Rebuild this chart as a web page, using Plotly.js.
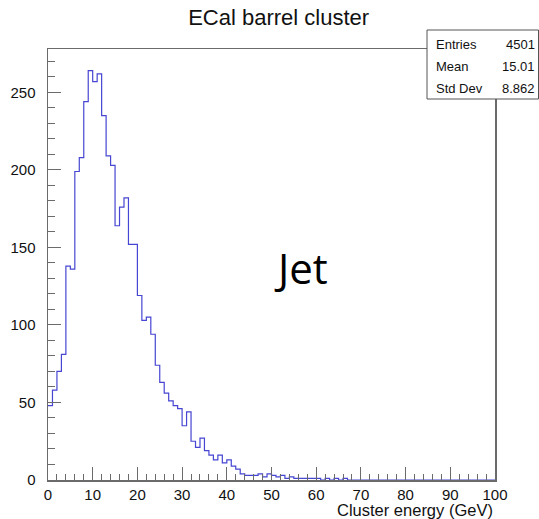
<!DOCTYPE html>
<html>
<head>
<meta charset="utf-8">
<script src="https://cdn.plot.ly/plotly-3.0.1.min.js"></script>
<style>
  html, body { margin: 0; padding: 0; background: #fff; }
  #plot { width: 539px; height: 519px; }
</style>
</head>
<body>
<div id="plot"></div>
<script>
// ECal barrel cluster energy histogram, 100 bins of 1 GeV from 0 to 100
const binLow = 0;
const binWidth = 1;
const counts = [
  48, 58, 70, 81, 138, 136, 199, 208, 244, 264,
  257, 262, 235, 209, 203, 164, 176, 182, 152, 152,
  119, 103, 105, 94, 74, 63, 56, 51, 48, 46,
  35, 44, 25, 21, 27, 19, 16, 13, 16, 11,
  13, 9, 7, 4, 3, 3, 3, 4, 2, 4,
  3, 2, 3, 1, 2, 1, 1, 1, 1, 1,
  1, 0, 1, 0, 1, 0, 1, 0, 0, 0,
  0, 0, 0, 0, 0, 0, 0, 0, 0, 0,
  0, 0, 0, 0, 0, 0, 0, 0, 0, 0,
  0, 0, 0, 0, 0, 0, 0, 0, 0, 0
];
const statNames = ['Entries', 'Mean', 'Std Dev'];
const statValues = ['4501', '15.01', '8.862'];
const xTicks = [0, 10, 20, 30, 40, 50, 60, 70, 80, 90, 100];
const yTicks = [0, 50, 100, 150, 200, 250];

// step outline: one point per bin edge, held flat across the bin
const xs = [], ys = [];
counts.forEach((c, i) => { xs.push(binLow + i * binWidth); ys.push(c); });
xs.push(binLow + counts.length * binWidth);
ys.push(counts[counts.length - 1]);

const axisColor = '#6b6b6b';
const sans = 'Liberation Sans, Arial, sans-serif';
const labelFont = { family: sans, size: 15, color: '#111' };

const trace = {
  type: 'scatter',
  mode: 'lines',
  x: xs,
  y: ys,
  line: { shape: 'hv', color: '#4646d2', width: 1.2 },
  hoverinfo: 'skip'
};

// stats box rows
const annotations = [];
const rowY = [45, 66.5, 88];
statNames.forEach((name, i) => {
  annotations.push({
    xref: 'paper', yref: 'paper',
    x: (434 - 48) / 447, y: 1 - (rowY[i] - 49) / 431,
    xanchor: 'left', yanchor: 'middle',
    text: name, showarrow: false,
    font: { family: sans, size: 13, color: '#111' }
  });
  annotations.push({
    xref: 'paper', yref: 'paper',
    x: (537 - 48) / 447, y: 1 - (rowY[i] - 49) / 431,
    xanchor: 'right', yanchor: 'middle',
    text: statValues[i], showarrow: false,
    font: { family: sans, size: 13, color: '#111' }
  });
});

// x axis title, right-aligned under the axis end
annotations.push({
  xref: 'paper', yref: 'paper',
  x: 1, y: 0, yshift: -30,
  xanchor: 'right', yanchor: 'middle',
  text: 'Cluster energy (GeV)', showarrow: false,
  font: { family: sans, size: 16.5, color: '#111' }
});

// sample label
annotations.push({
  xref: 'x', yref: 'y',
  x: 56.5, y: 137,
  xanchor: 'center', yanchor: 'middle',
  text: 'Jet', showarrow: false,
  font: { family: 'Open Sans, sans-serif', size: 42, color: '#000' }
});

const layout = {
  width: 539,
  height: 519,
  autosize: false,
  margin: { l: 48, r: 44, t: 49, b: 39, pad: 0 },
  paper_bgcolor: '#fff',
  plot_bgcolor: '#fff',
  showlegend: false,
  title: {
    text: 'ECal barrel cluster',
    x: 0.517, xanchor: 'center',
    y: 1 - 17 / 519, yanchor: 'middle',
    font: { family: sans, size: 22, color: '#111' }
  },
  xaxis: {
    range: [0, 100],
    tickvals: xTicks,
    ticktext: xTicks.map(String),
    ticks: 'inside',
    ticklen: 13,
    tickwidth: 1,
    tickcolor: axisColor,
    ticklabelstandoff: 0,
    minor: { dtick: 2, ticks: 'inside', ticklen: 6, tickwidth: 1, tickcolor: axisColor, showgrid: false },
    showline: true,
    linecolor: axisColor,
    linewidth: 1.5,
    mirror: true,
    showgrid: false,
    zeroline: false,
    tickfont: labelFont,
    fixedrange: true
  },
  yaxis: {
    range: [0, 278],
    tickvals: yTicks,
    ticktext: yTicks.map(String),
    ticks: 'inside',
    ticklen: 13,
    tickwidth: 1,
    tickcolor: axisColor,
    ticklabelstandoff: 8,
    minor: { dtick: 10, ticks: 'inside', ticklen: 7, tickwidth: 1, tickcolor: axisColor, showgrid: false },
    showline: true,
    linecolor: axisColor,
    linewidth: 1.5,
    mirror: true,
    showgrid: false,
    zeroline: false,
    tickfont: labelFont,
    fixedrange: true
  },
  shapes: [{
    type: 'rect',
    xref: 'paper', yref: 'paper',
    x0: (427 - 48) / 447, x1: (538.5 - 48) / 447,
    y0: 1 - (99 - 49) / 431, y1: 1 - (30 - 49) / 431,
    line: { color: '#555', width: 1 },
    fillcolor: '#fff',
    layer: 'above'
  }],
  annotations: annotations
};

Plotly.newPlot('plot', [trace], layout, { staticPlot: true, displayModeBar: false });
</script>
</body>
</html>
